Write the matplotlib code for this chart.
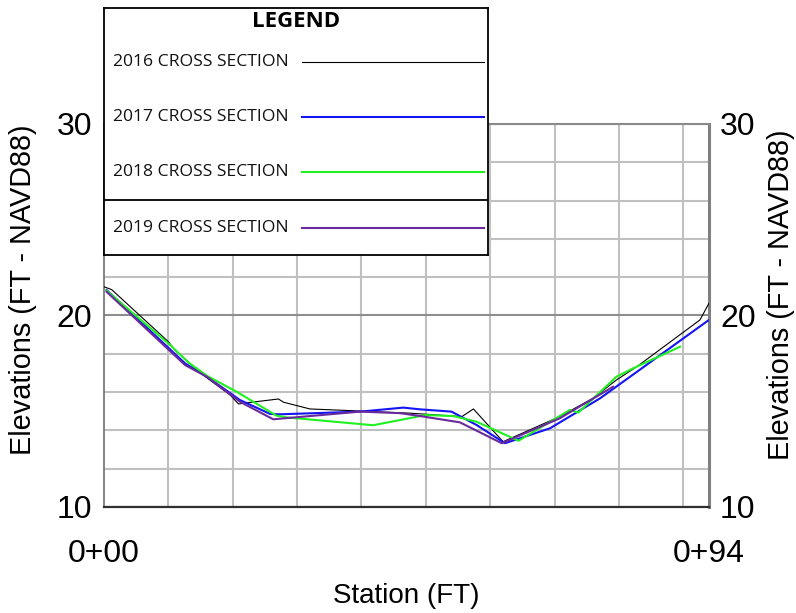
import matplotlib
matplotlib.use("Agg")
import matplotlib.pyplot as plt
from matplotlib.lines import Line2D
from matplotlib.ticker import FixedLocator

# ---------------- data ----------------
series_names = ["2016 CROSS SECTION", "2017 CROSS SECTION",
                "2018 CROSS SECTION", "2019 CROSS SECTION"]
series_colors = ["#000000", "#1414f5", "#20f020", "#6a2a9e"]

st_2016 = [0.0, 1.2, 10.0, 11.0, 15.4, 19.6, 20.9, 22.4, 27.1, 27.9, 32.0, 38.5,
           47.5, 55.6, 57.4, 62.0, 70.8, 76.0, 79.6, 82.8, 92.6, 94.0]
el_2016 = [21.5, 21.35, 18.63, 18.2, 16.89, 15.85, 15.38, 15.45, 15.64, 15.47, 15.12, 15.03,
           14.9, 14.72, 15.12, 13.41, 14.72, 15.68, 16.63, 17.33, 19.77, 20.64]

st_2017 = [0.4, 12.6, 16.0, 21.1, 25.8, 27.3, 39.8, 46.5, 49.1, 54.0, 57.9, 62.3,
           69.3, 77.1, 94.0]
el_2017 = [21.33, 17.5, 16.8, 15.59, 14.86, 14.84, 14.98, 15.19, 15.1, 14.98, 14.28, 13.33,
           14.11, 15.68, 19.77]

st_2018 = [0.4, 10.3, 13.1, 16.0, 20.6, 26.8, 28.4, 41.8, 46.0, 49.9, 54.3, 57.9, 64.4,
           72.4, 73.7, 79.6, 82.2, 89.5]
el_2018 = [21.3, 18.45, 17.55, 16.85, 16.02, 14.77, 14.68, 14.27, 14.54, 14.8, 14.75, 14.45, 13.46,
           15.07, 14.93, 16.8, 17.24, 18.37]

st_2019 = [0.4, 12.6, 16.0, 21.1, 26.3, 39.8, 46.0, 49.1, 55.3, 61.8, 70.8, 79.1]
el_2019 = [21.24, 17.41, 16.8, 15.5, 14.58, 14.98, 14.9, 14.75, 14.42, 13.33, 14.63, 16.28]

x_tick_pos = [0, 94]
x_tick_labels = ["0+00", "0+94"]
y_ticks = [10, 20, 30]
x_grid = [10, 20, 30, 40, 50, 60, 70, 80, 90]
y_grid = [12, 14, 16, 18, 22, 24, 26, 28]

stations = [st_2016, st_2017, st_2018, st_2019]
elevs = [el_2016, el_2017, el_2018, el_2019]
widths = [0.8, 1.5, 1.5, 1.5]
draw_order = [2, 1, 3, 0]

AX_FONT = "Liberation Sans"
LG_FONT = "Open Sans"

# ---------------- figure ----------------
W, H = 796, 613
fig = plt.figure(figsize=(W / 100, H / 100), dpi=100)
L, R, T, B = 104, 709, 124, 507
ax = fig.add_axes([L / W, 1 - B / H, (R - L) / W, (B - T) / H])
ax.set_xlim(0, 94)
ax.set_ylim(10, 30)

for i in draw_order:
    ax.plot(stations[i], elevs[i], color=series_colors[i], lw=widths[i],
            zorder=3 + i * 0.1, solid_joinstyle="round")

# ticks / grid
ax.set_xticks(x_tick_pos)
ax.set_xticklabels(x_tick_labels)
ax.xaxis.set_minor_locator(FixedLocator(x_grid))
ax.set_yticks(y_ticks)
ax.yaxis.set_minor_locator(FixedLocator(y_grid))
ax.grid(which="minor", axis="both", color="#c0c0c0", lw=1.5, zorder=1)
ax.grid(which="major", axis="y", color="#8e8e8e", lw=1.5, zorder=1)
ax.set_axisbelow(True)
ax.tick_params(which="both", length=0)
ax.tick_params(axis="y", which="major", pad=8.4, labelsize=23)
ax.tick_params(axis="x", which="major", pad=23, labelsize=23)
for lab in ax.get_xticklabels() + ax.get_yticklabels():
    lab.set_fontfamily(AX_FONT)

ax.spines["left"].set_color("#707070")
ax.spines["left"].set_linewidth(1.2)
ax.spines["top"].set_color("#8a8a8a")
ax.spines["top"].set_linewidth(1.5)
ax.spines["right"].set_color("#808080")
ax.spines["right"].set_linewidth(2.2)
ax.spines["bottom"].set_color("#303030")
ax.spines["bottom"].set_linewidth(1.6)

ax.set_xlabel("Station (FT)", fontsize=20, family=AX_FONT)
ax.xaxis.set_label_coords(0.5, (B - 596) / (B - T))
ax.xaxis.label.set_va("center")
ax.set_ylabel("Elevations (FT - NAVD88)", fontsize=20.8, family=AX_FONT)
ax.yaxis.set_label_coords((23 - L) / (R - L), (B - 290) / (B - T))
ax.yaxis.label.set_va("center")

ax2 = ax.twinx()
ax2.set_ylim(10, 30)
ax2.set_yticks(y_ticks)
ax2.tick_params(length=0, pad=8, labelsize=23)
for lab in ax2.get_yticklabels():
    lab.set_fontfamily(AX_FONT)
for s in ax2.spines.values():
    s.set_visible(False)
ax2.set_ylabel("Elevations (FT - NAVD88)", fontsize=20.8, family=AX_FONT)
ax2.yaxis.set_label_coords((781 - L) / (R - L), (B - 295) / (B - T))
ax2.yaxis.label.set_va("center")

# ---------------- legend box ----------------
lx0, lx1, ly0, ly1 = 104, 488.3, 8.3, 255
lg = fig.add_axes([lx0 / W, 1 - ly1 / H, (lx1 - lx0) / W, (ly1 - ly0) / H], zorder=10)
lg.set_xlim(0, 1)
lg.set_ylim(0, 1)
lg.set_xticks([])
lg.set_yticks([])
lg.set_facecolor("white")
for s in lg.spines.values():
    s.set_color("black")
    s.set_linewidth(1.3)

lg.text(0.5, (ly1 - 21.5) / (ly1 - ly0), "LEGEND", ha="center", va="center",
        fontsize=16, fontweight="bold", family=LG_FONT)
row_y = [62.3, 117.3, 172.3, 227.7]
for i, name in enumerate(series_names):
    yy = (ly1 - row_y[i]) / (ly1 - ly0)
    lg.text((113.3 - lx0) / (lx1 - lx0), yy, name, ha="left", va="center",
            fontsize=12.6, family=LG_FONT, color="#111111")
    lg.add_line(Line2D([(301.7 - lx0) / (lx1 - lx0), (484 - lx0) / (lx1 - lx0)], [yy, yy],
                       color=series_colors[i], lw=widths[i]))
lg.axhline((ly1 - 200) / (ly1 - ly0), color="black", lw=1.3)

fig.savefig("out.png", dpi=100)
